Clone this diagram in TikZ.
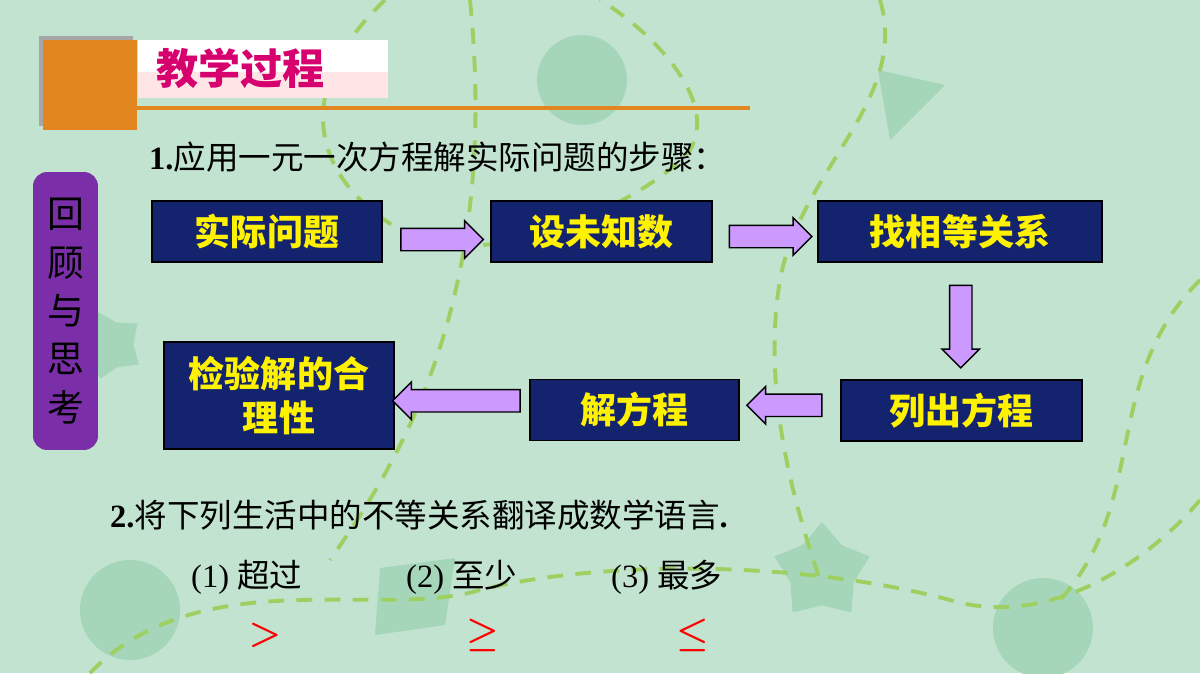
\documentclass[tikz,border=0pt]{standalone}
\usepackage{amsmath}
\usepackage{fontspec}
\setmainfont{Liberation Serif}
\newfontfamily\cjk{Noto Sans CJK SC}
\usetikzlibrary{shapes.arrows, shapes.geometric, calc, positioning}
\definecolor{bgmint}{HTML}{C2E3D0}
\definecolor{decogreen}{HTML}{A6D6BA}
\definecolor{dashgreen}{HTML}{9DD060}
\definecolor{navy}{HTML}{14236E}
\definecolor{lavender}{HTML}{CC99FF}
\definecolor{sidepurple}{HTML}{7A2FA8}
\definecolor{headorange}{HTML}{E2871F}
\definecolor{titlepink}{HTML}{D6006F}
\tikzset{
  stepbox/.style={draw=black, thick, fill=navy, text=yellow, font=\cjk\bfseries\fontsize{20.5}{25}\selectfont, align=center, inner sep=0pt},
  fat/.style={single arrow, draw=black, thick, fill=lavender, minimum height=1.65cm, minimum width=0.72cm, single arrow head extend=0.15cm, inner xsep=0pt, inner ysep=0.21cm},
  trail/.style={dashgreen, line width=2.2pt, dash pattern=on 9pt off 7pt},
  deco/.style={fill=decogreen, draw=none}
}
\begin{document}
\begin{tikzpicture}[x=0.02cm, y=-0.02cm]
\useasboundingbox (0,0) rectangle (1200,673);
\fill[bgmint] (0,0) rectangle (1200,673);
% background
\fill[deco] (582,80) circle (45);
\fill[deco] (130,610) circle (50);
\fill[deco] (1043,628) circle (50);
\fill[deco] (878,70) -- (945,85) -- (890,140) -- cycle;
\fill[deco] (380,568) -- (455,558) -- (445,625) -- (375,635) -- cycle;
\node[deco, star, star points=5, minimum size=2.0cm, inner sep=0pt] at (822,572) {};
\node[deco, star, star points=5, minimum size=1.4cm, inner sep=0pt, rotate=20] at (110,345) {};
\draw[trail] (385,0) .. controls (300,80) and (300,170) .. (400,230) .. controls (480,280) and (650,200) .. (690,150) .. controls (720,100) and (650,30) .. (600,0);
\draw[trail] (880,0) .. controls (910,100) and (800,170) .. (780,280) .. controls (760,400) and (800,520) .. (820,580);
\draw[trail] (90,673) .. controls (200,560) and (380,620) .. (480,590) .. controls (600,560) and (800,560) .. (950,600) .. controls (1050,630) and (1150,560) .. (1200,500);
\draw[trail] (470,0) .. controls (500,300) and (400,460) .. (330,560);
\draw[trail] (1200,280) .. controls (1100,380) and (1150,500) .. (1060,600);
% header
\fill[black!35] (39,36) rectangle (133,126);
\fill[headorange] (43,40) rectangle (137,130);
\fill[white] (138,40) rectangle (388,98);
\fill[pink!40] (138,72) rectangle (388,98);
\draw[headorange, line width=2.5pt] (137,108) -- (750,108);
\node[anchor=west, text=titlepink, font=\cjk\bfseries\fontsize{24}{28}\selectfont] (title) at (150,68) {教学过程};
% side tab
\node[fill=sidepurple, rounded corners=8pt, minimum width=1.3cm, minimum height=5.56cm, inner sep=0pt] (side) at (65.5,311) {};
\node[font=\cjk\fontsize{21}{27.5}\selectfont, align=center] at (side) {回\\顾\\与\\思\\考};
% part one
\node[anchor=west, font=\fontsize{18.5}{22}\selectfont] (q1) at (143,157) {\textbf{1.}{\cjk 应用一元一次方程解实际问题的步骤：}};
\node[stepbox, minimum width=4.6cm, minimum height=1.22cm] (real) at (267,231.5) {实际问题};
\node[stepbox, minimum width=4.42cm, minimum height=1.22cm] (unknown) at (601.5,231.5) {设未知数};
\node[stepbox, minimum width=5.68cm, minimum height=1.22cm] (relation) at (960,231.5) {找相等关系};
\node[stepbox, minimum width=4.82cm, minimum height=1.22cm] (equation) at (961.5,410.5) {列出方程};
\node[stepbox, minimum width=4.18cm, minimum height=1.22cm] (solve) at (634.5,410) {解方程};
\node[stepbox, minimum width=4.6cm, minimum height=2.14cm] (check) at (279,395.5) {检验解的合\\理性};
\node[fat] (a1) at ($(real.east)!0.5!(unknown.west)+(0,8)$) {};
\node[fat] (a2) at ($(unknown.east)!0.5!(relation.west)+(0,5)$) {};
\node[fat, rotate=-90] (a3) at ($(relation.south)!0.5!(equation.north)$) {};
\node[fat, rotate=180, minimum height=1.5cm] (a4) at ($(solve.east)!0.5!(equation.west)-(0,5)$) {};
\node[fat, rotate=180, minimum height=2.55cm] (a5) at ($(check.east)!0.5!(solve.west)+(0,-2)$) {};
% part two
\node[anchor=west, font=\fontsize{18.5}{22}\selectfont] (q2) at (104,515) {\textbf{2.}{\cjk 将下列生活中的不等关系翻译成数学语言}\textbf{.}};
\foreach \x/\lbl/\sym/\sx [count=\i] in {185/超过/>/265, 400/至少/\geq/483, 605/最多/\leq/693} {
  \node[anchor=west, font=\fontsize{18.5}{22}\selectfont] (item\i) at (\x,577) {(\i) {\cjk \lbl}};
  \node[text=red, font=\fontsize{20}{22}\selectfont] (sym\i) at (\sx,635) {$\boldsymbol{\sym}$};
}
\end{tikzpicture}
\end{document}
